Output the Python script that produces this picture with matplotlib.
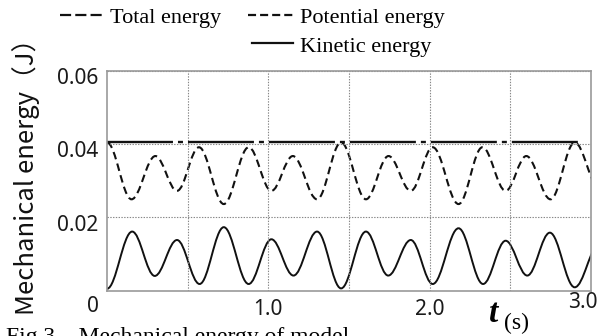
import numpy as np
import matplotlib
matplotlib.use("Agg")
from matplotlib import pyplot as plt
from matplotlib.path import Path
from matplotlib.patches import PathPatch
from matplotlib.lines import Line2D
from matplotlib import transforms

plt.rcParams['lines.scale_dashes'] = False

# extrema (time s, energy J)
kin_t = [0.0, 0.156, 0.296, 0.434, 0.574, 0.724, 0.878, 1.019, 1.156, 1.302, 1.451,
         1.605, 1.743, 1.883, 2.019, 2.179, 2.331, 2.471, 2.605, 2.745, 2.899, 3.05]
kin_e = [0.0005, 0.0161, 0.0040, 0.0138, 0.0018, 0.0173, 0.0018, 0.0140, 0.0041, 0.0161, 0.0006,
         0.0161, 0.0041, 0.0138, 0.0018, 0.0170, 0.0018, 0.0136, 0.0041, 0.0158, 0.0009, 0.0125]
pot_t = [0.0, 0.152, 0.300, 0.434, 0.570, 0.724, 0.878, 1.019, 1.152, 1.302, 1.451,
         1.605, 1.745, 1.883, 2.019, 2.179, 2.327, 2.471, 2.599, 2.749, 2.899, 3.05]
pot_e = [0.0404, 0.0249, 0.0367, 0.0272, 0.0391, 0.0236, 0.0391, 0.0272, 0.0367, 0.0249, 0.0404,
         0.0249, 0.0367, 0.0272, 0.0391, 0.0236, 0.0391, 0.0272, 0.0367, 0.0249, 0.0404, 0.0280]
tot_t = [0.0, 2.944]
tot_e = [0.0404, 0.0404]

yticks = [0.02, 0.04, 0.06]
ytick_labels = ['0.02', '0.04', '0.06']
xticks = [0.5, 1.0, 1.5, 2.0, 2.5]
xtick_labels = ['', '1.0', '', '2.0', '']

W, H = 607, 336


def smooth_path(ts, vs):
    # cubic bezier between extrema, flat tangent at each extremum
    verts = [(ts[0], vs[0])]
    codes = [Path.MOVETO]
    for i in range(len(ts) - 1):
        dt = ts[i + 1] - ts[i]
        verts += [(ts[i] + 0.3642 * dt, vs[i]), (ts[i + 1] - 0.3642 * dt, vs[i + 1]), (ts[i + 1], vs[i + 1])]
        codes += [Path.CURVE4] * 3
    return Path(verts, codes)


fig = plt.figure(figsize=(W / 100, H / 100), dpi=100)
ax = fig.add_axes([107 / W, 1 - 290.6 / H, 484 / W, 220 / H])
ax.set_xlim(0, 3.0)
ax.set_ylim(0, 0.06)

ax.plot(tot_t, tot_e, color='#111', lw=1.7, dashes=(47.5, 3.6, 3.6, 3.6))
ax.add_patch(PathPatch(smooth_path(pot_t, pot_e), fill=False, edgecolor='#111', lw=1.5,
                       linestyle=(0, (5.5, 3.2))))
ax.add_patch(PathPatch(smooth_path(kin_t, kin_e), fill=False, edgecolor='#111', lw=1.4))

ax.set_xticks(xticks)
ax.set_xticklabels(xtick_labels)
ax.set_yticks(yticks)
ax.set_yticklabels(ytick_labels)
ax.tick_params(length=0, labelsize=15, pad=6, colors='#1a1a1a')
for lab in ax.get_xticklabels() + ax.get_yticklabels():
    lab.set_family('Noto Sans')
off = transforms.ScaledTranslation(0, -4 / 72, fig.dpi_scale_trans)
for lab in ax.get_yticklabels():
    lab.set_transform(lab.get_transform() + off)
ax.grid(True, color='#888', lw=0.8, linestyle=(0, (1, 1)))
for s in ax.spines.values():
    s.set_color('#999')
    s.set_linewidth(1.2)

# overlay in pixel coordinates for legend and loose labels
ov = fig.add_axes([0, 0, 1, 1])
ov.set_xlim(0, W)
ov.set_ylim(H, 0)
ov.axis('off')
ov.patch.set_visible(False)

serif = 'Liberation Serif'
ov.add_line(Line2D([60, 103], [15, 15], color='#111', lw=1.6, dashes=(8, 3)))
ov.text(110, 23, 'Total energy', family=serif, fontsize=16, va='baseline')
ov.add_line(Line2D([248, 293], [15, 15], color='#111', lw=1.6, dashes=(5.8, 2.9)))
ov.text(300, 23, 'Potential energy', family=serif, fontsize=16, va='baseline')
ov.add_line(Line2D([252, 293], [43, 43], color='#111', lw=1.6))
ov.text(300, 52, 'Kinetic energy', family=serif, fontsize=16, va='baseline')

ov.text(26, 170, 'Mechanical energy（J）', family=['Noto Sans CJK JP', 'DejaVu Sans'],
        fontsize=18.5, rotation=90, ha='center', va='center', color='#111')
ov.text(93, 307, '0', family='Noto Sans', fontsize=15, ha='center', va='center', color='#1a1a1a')
ov.text(583, 303, '3.0', family='Noto Sans', fontsize=15, ha='center', va='center', color='#1a1a1a')
ov.text(489, 322, 't', family=serif, fontsize=24, style='italic', weight='bold', va='baseline')
ov.text(504, 329, '(s)', family=serif, fontsize=17, va='baseline')
ov.text(6, 327, 'Fig.3    Mechanical energy of model', family=serif, fontsize=17, va='top')

fig.savefig('out.png', dpi=100)
